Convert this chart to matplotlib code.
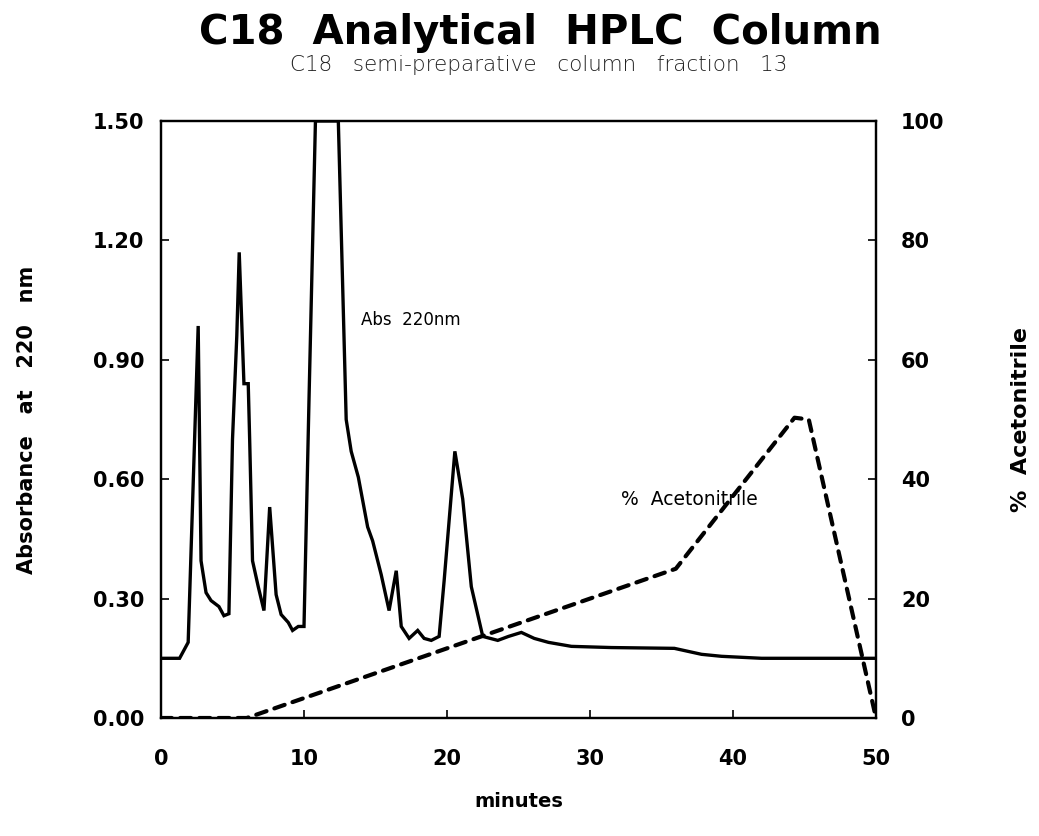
import matplotlib
matplotlib.use("Agg")
import matplotlib.pyplot as plt

# Absorbance at 220 nm trace (minutes, AU)
abs_time = [0.0, 1.3, 1.9, 2.6, 2.8, 3.15, 3.5, 4.05, 4.4, 4.75, 5.0, 5.3, 5.47, 5.8, 6.1, 6.2,
            6.4, 6.8, 7.2, 7.6, 8.05, 8.4, 8.9, 9.2, 9.6, 10.0, 10.35, 10.8, 12.4, 12.95, 13.3,
            13.8, 14.45, 14.8, 15.4, 15.95, 16.45, 16.8, 17.35, 17.95, 18.4, 18.9, 19.45, 19.8,
            20.55, 21.1, 21.7, 22.5, 23.55, 24.3, 25.2, 26.1, 27.1, 28.7, 31.5, 35.9, 37.8,
            39.2, 42.0, 50.0]
abs_value = [0.15, 0.15, 0.19, 0.985, 0.395, 0.315, 0.295, 0.28, 0.257, 0.262, 0.70, 0.96, 1.17,
             0.84, 0.84, 0.70, 0.395, 0.33, 0.27, 0.53, 0.31, 0.26, 0.24, 0.22, 0.23, 0.23, 0.80,
             1.50, 1.50, 0.75, 0.67, 0.605, 0.48, 0.445, 0.36, 0.27, 0.37, 0.23, 0.20, 0.22,
             0.20, 0.195, 0.205, 0.345, 0.67, 0.55, 0.33, 0.205, 0.195, 0.205, 0.215, 0.20,
             0.19, 0.18, 0.177, 0.175, 0.16, 0.155, 0.15, 0.15]

# % Acetonitrile gradient (minutes, %)
acn_time = [0.0, 6.0, 36.0, 44.3, 45.3, 50.0]
acn_value = [0.0, 0.0, 25.0, 50.3, 50.0, 0.0]

x_ticks = [0, 10, 20, 30, 40, 50]
y_ticks = [0.00, 0.30, 0.60, 0.90, 1.20, 1.50]
y2_ticks = [0, 20, 40, 60, 80, 100]

fig = plt.figure(figsize=(10.39, 8.36), dpi=100)
L, R, B, T = 161 / 1039, 876 / 1039, (836 - 718) / 836, (836 - 121) / 836
ax = fig.add_axes([L, B, R - L, T - B])
ax2 = ax.twinx()
ax2.set_position([L, B, R - L, T - B])

ax.plot(abs_time, abs_value, color="black", lw=2.4, solid_joinstyle="miter", zorder=3)
ax2.plot(acn_time, acn_value, color="black", lw=3.0, linestyle=(0, (2.6, 2.0)),
         dash_capstyle="round", zorder=3)

ax.set_xlim(0, 50)
ax.set_ylim(0, 1.5)
ax2.set_ylim(0, 100)

ax.set_xticks(x_ticks)
ax.set_xticklabels([str(v) for v in x_ticks], fontweight="bold", fontsize=15)
ax.set_yticks(y_ticks)
ax.set_yticklabels([f"{v:.2f}" for v in y_ticks], fontweight="bold", fontsize=15)
ax2.set_yticks(y2_ticks)
ax2.set_yticklabels([str(v) for v in y2_ticks], fontweight="bold", fontsize=15)

ax.tick_params(axis="x", direction="in", length=6, width=1.2, pad=22, top=False)
ax.tick_params(axis="y", direction="in", length=6, width=1.2, pad=12)
ax2.tick_params(axis="y", direction="in", length=6, width=1.2, pad=18)

for a in (ax, ax2):
    for s in a.spines.values():
        s.set_linewidth(1.6)

ax.set_xlabel("minutes", fontweight="bold", fontsize=14, labelpad=17)
ax.set_ylabel("Absorbance   at   220   nm", fontweight="bold", fontsize=15, labelpad=40)
ax2.set_ylabel("%  Acetonitrile", fontweight="bold", fontsize=16, labelpad=48)

ax.text(14.0, 1.0, "Abs  220nm", fontsize=12, va="center", ha="left")
ax.text(32.2, 0.55, "%  Acetonitrile", fontsize=13.5, va="center", ha="left")

fig.text(0.52, 0.961, "C18  Analytical  HPLC  Column", ha="center", va="center",
         fontweight="bold", fontsize=29)
fig.text(0.518, 0.922, "C18   semi-preparative   column   fraction   13", ha="center",
         va="center", fontsize=15.5, fontweight="light", color="#222222")

fig.savefig("out.png", dpi=100)
